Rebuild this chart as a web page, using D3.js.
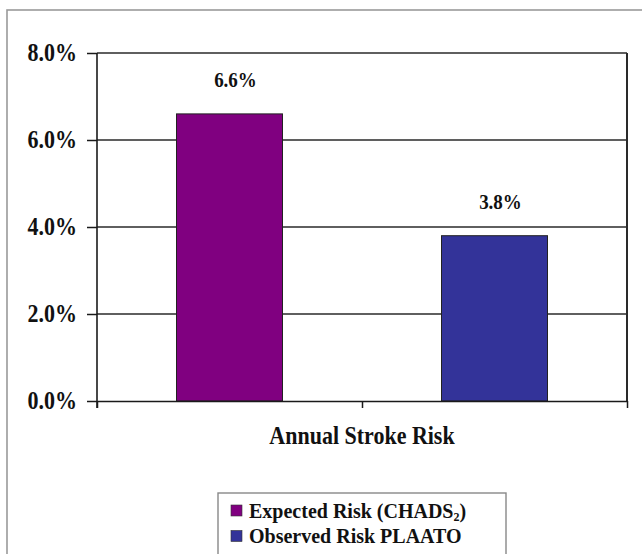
<!DOCTYPE html>
<html>
<head>
<meta charset="utf-8">
<script src="https://cdn.jsdelivr.net/npm/d3@7"></script>
<style>
  html, body { margin: 0; padding: 0; background: #fff; }
  svg { display: block; }
  text { font-family: "Liberation Serif", "Times New Roman", serif; font-weight: bold; fill: #111; }
</style>
</head>
<body>
<svg id="chart" width="642" height="554"></svg>
<script>
// Annual stroke risk: expected (CHADS2) vs observed (PLAATO)
const seriesNames = ["Expected Risk (CHADS2)", "Observed Risk PLAATO"];
const seriesValues = [0.066, 0.038];
const seriesColors = ["#800080", "#333399"];
const categoryLabel = "Annual Stroke Risk";
const yTicks = [0, 0.02, 0.04, 0.06, 0.08];

const svg = d3.select("#chart");
const plot = { left: 97, right: 627, top: 53, bottom: 401 };
const stretch = "scale(1,1.1)"; // slightly tall lettering

// Outer chart frame
svg.append("rect")
  .attr("x", 7).attr("y", 10)
  .attr("width", 660).attr("height", 570)
  .attr("fill", "#fff")
  .attr("stroke", "#9a9a9a").attr("stroke-width", 1.6);

const y = d3.scaleLinear().domain([0, 0.08]).range([plot.bottom, plot.top]);
const x = d3.scaleBand()
  .domain(seriesNames)
  .range([plot.left, plot.right])
  .paddingInner(0.6)
  .paddingOuter(0.3);

// Horizontal gridlines
svg.append("g")
  .selectAll("line")
  .data(yTicks.filter(t => t > 0))
  .join("line")
  .attr("x1", plot.left).attr("x2", plot.right)
  .attr("y1", d => y(d)).attr("y2", d => y(d))
  .attr("stroke", "#2a2a2a").attr("stroke-width", 1.5);

// Right edge of plot area
svg.append("line")
  .attr("x1", plot.right).attr("x2", plot.right)
  .attr("y1", y(0.08)).attr("y2", y(0))
  .attr("stroke", "#2a2a2a").attr("stroke-width", 2);

// Bars
svg.append("g")
  .selectAll("rect")
  .data(seriesValues)
  .join("rect")
  .attr("x", (d, i) => x(seriesNames[i]))
  .attr("width", x.bandwidth())
  .attr("y", d => y(d))
  .attr("height", d => y(0) - y(d))
  .attr("fill", (d, i) => seriesColors[i])
  .attr("stroke", "#222").attr("stroke-width", 1);

// Value labels
svg.append("g")
  .selectAll("text")
  .data(seriesValues)
  .join("text")
  .attr("transform", (d, i) =>
    `translate(${x(seriesNames[i]) + x.bandwidth() / 2 + 6},${y(d) - 27}) ${stretch}`)
  .attr("text-anchor", "middle")
  .style("font-size", "19px")
  .text(d => d3.format(".1%")(d));

// Y axis
const yAxis = d3.axisLeft(y)
  .tickValues(yTicks)
  .tickFormat(d3.format(".1%"))
  .tickSize(10)
  .tickPadding(10);
const gy = svg.append("g")
  .attr("transform", `translate(${plot.left},0)`)
  .call(yAxis);
gy.select(".domain").attr("stroke", "#1a1a1a").attr("stroke-width", 1.6)
  .attr("d", `M0,${plot.top}V${plot.bottom + 7}`);
gy.selectAll(".tick line").attr("stroke", "#1a1a1a").attr("stroke-width", 1.5);
gy.selectAll(".tick text")
  .attr("transform", stretch)
  .style("font-size", "22px")
  .style("font-family", "'Liberation Serif', 'Times New Roman', serif")
  .style("font-weight", "bold")
  .attr("fill", "#111");

// X axis with category boundary ticks
const xEdges = d3.scaleLinear().domain([0, 2]).range([plot.left, plot.right]);
const xAxis = d3.axisBottom(xEdges).tickValues([0, 1, 2]).tickFormat("").tickSize(7).tickSizeOuter(0);
const gx = svg.append("g")
  .attr("transform", `translate(0,${plot.bottom})`)
  .call(xAxis);
gx.select(".domain").attr("stroke", "#1a1a1a").attr("stroke-width", 1.6);
gx.selectAll(".tick line").attr("stroke", "#1a1a1a").attr("stroke-width", 1.5);

svg.append("text")
  .attr("transform", `translate(${xEdges(1)},444) ${stretch}`)
  .attr("text-anchor", "middle")
  .style("font-size", "22px")
  .text(categoryLabel);

// Legend
const legend = svg.append("g");
legend.append("rect")
  .attr("x", 218).attr("y", 493)
  .attr("width", 288).attr("height", 90)
  .attr("fill", "#fff")
  .attr("stroke", "#888").attr("stroke-width", 1.4);

const items = legend.selectAll("g.item")
  .data(seriesNames)
  .join("g")
  .attr("class", "item")
  .attr("transform", (d, i) => `translate(231,${505 + i * 25.5})`);

items.append("rect")
  .attr("width", 11).attr("height", 11)
  .attr("fill", (d, i) => seriesColors[i])
  .attr("stroke", "#333").attr("stroke-width", 0.6);

items.append("text")
  .attr("x", 18)
  .attr("y", 12.5)
  .style("font-size", "20px")
  .each(function(d) {
    const t = d3.select(this);
    const m = d.match(/^(.*CHADS)2(\))$/);
    if (m) {
      t.append("tspan").text(m[1]);
      t.append("tspan").text("2").style("font-size", "12px").attr("dy", 3);
      t.append("tspan").text(m[2]).attr("dy", -3);
    } else {
      t.text(d);
    }
  });
</script>
</body>
</html>
